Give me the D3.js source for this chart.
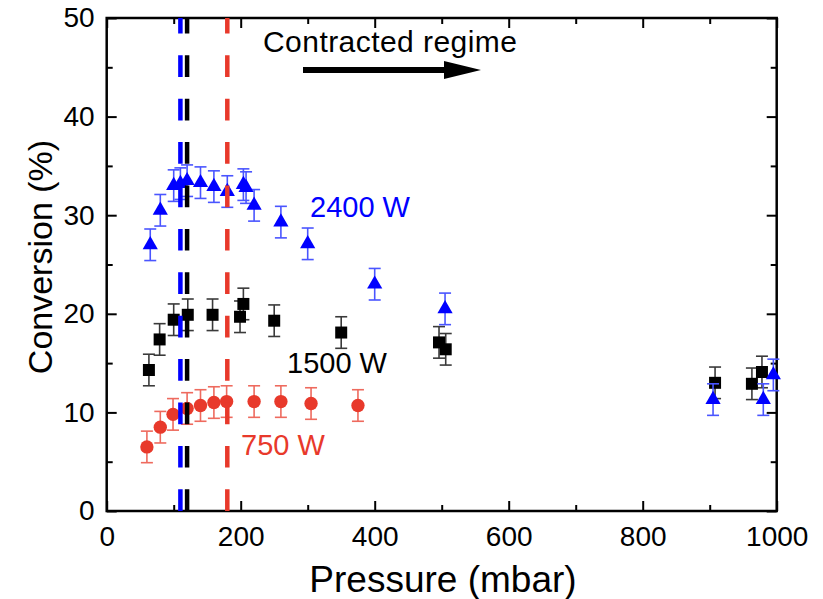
<!DOCTYPE html>
<html><head><meta charset="utf-8">
<script src="https://cdn.jsdelivr.net/npm/d3@7"></script>
<style>
html,body{margin:0;padding:0;background:#fff;}
svg{display:block;font-family:Arial,"Liberation Sans",sans-serif;}
</style></head>
<body><svg id="c" width="823" height="599"></svg>
<script>
// ---- data ----
const p2400 = [65, 80, 100, 110, 120, 140, 160, 180, 204, 208, 220, 260, 300, 400, 505, 905, 980, 995];
const c2400 = [27.0, 30.5, 33.0, 33.2, 33.5, 33.3, 32.9, 32.4, 33.1, 32.8, 31.0, 29.3, 27.1, 23.0, 20.5, 11.3, 11.3, 13.8];
const e2400 = [1.6, 1.6, 1.6, 1.6, 1.6, 1.6, 1.6, 1.6, 1.6, 1.6, 1.6, 1.6, 1.6, 1.6, 1.6, 1.6, 1.6, 1.6];

const p1500 = [63, 79, 100, 121, 158, 199, 204, 250, 350, 496, 506, 908, 963, 978];
const c1500 = [14.3, 17.4, 19.4, 19.9, 19.9, 19.7, 21.0, 19.3, 18.1, 17.1, 16.4, 13.0, 12.9, 14.1];
const e1500 = [1.6, 1.6, 1.6, 1.6, 1.6, 1.6, 1.6, 1.6, 1.6, 1.6, 1.6, 1.6, 1.6, 1.6];

const p750 = [60, 80, 99, 120, 140, 160, 179, 220, 260, 305, 375];
const c750 = [6.5, 8.5, 9.8, 10.4, 10.7, 11.0, 11.1, 11.1, 11.1, 10.9, 10.7];
const e750 = [1.6, 1.6, 1.6, 1.6, 1.6, 1.6, 1.6, 1.6, 1.6, 1.6, 1.6];

const vlinePressures = [110, 120, 180];
const vlineColors = ["#0000ff", "#000000", "#e8392b"];

const xTicks = [0, 200, 400, 600, 800, 1000];
const xMinor = [100, 300, 500, 700, 900];
const yTicks = [0, 10, 20, 30, 40, 50];
const yMinor = [5, 15, 25, 35, 45];

// ---- layout ----
const svg = d3.select("#c");
const L = 106.7, R = 776.7, T = 18, B = 511;
const x = d3.scaleLinear().domain([0, 1000]).range([L, R]);
const y = d3.scaleLinear().domain([0, 50]).range([B, T]);

const BLUE = "#0000ff", RED = "#e8392b", BLACK = "#000000";

function styleAxis(g, showLabels) {
  g.select(".domain").remove();
  g.selectAll(".tick line").attr("stroke", "#000").attr("stroke-width", 2);
  g.selectAll(".tick text").attr("font-size", 28).attr("fill", "#000")
    .attr("font-family", "Arial, 'Liberation Sans', sans-serif");
  if (!showLabels) g.selectAll(".tick text").remove();
}

// axes (ticks inward)
const gxb = svg.append("g").attr("transform", `translate(0,${B})`)
  .call(d3.axisBottom(x).tickValues(xTicks).tickSize(-10).tickPadding(15).tickFormat(d3.format("d")));
styleAxis(gxb, true);
const gxbm = svg.append("g").attr("transform", `translate(0,${B})`)
  .call(d3.axisBottom(x).tickValues(xMinor).tickSize(-6));
styleAxis(gxbm, false);
const gxt = svg.append("g").attr("transform", `translate(0,${T})`)
  .call(d3.axisTop(x).tickValues(xTicks).tickSize(-10));
styleAxis(gxt, false);
const gxtm = svg.append("g").attr("transform", `translate(0,${T})`)
  .call(d3.axisTop(x).tickValues(xMinor).tickSize(-6));
styleAxis(gxtm, false);

const gyl = svg.append("g").attr("transform", `translate(${L},0)`)
  .call(d3.axisLeft(y).tickValues(yTicks).tickSize(-10).tickPadding(12).tickFormat(d3.format("d")));
styleAxis(gyl, true);
const gylm = svg.append("g").attr("transform", `translate(${L},0)`)
  .call(d3.axisLeft(y).tickValues(yMinor).tickSize(-6));
styleAxis(gylm, false);
const gyr = svg.append("g").attr("transform", `translate(${R},0)`)
  .call(d3.axisRight(y).tickValues(yTicks).tickSize(-10));
styleAxis(gyr, false);
const gyrm = svg.append("g").attr("transform", `translate(${R},0)`)
  .call(d3.axisRight(y).tickValues(yMinor).tickSize(-6));
styleAxis(gyrm, false);

// frame
svg.append("rect").attr("x", L).attr("y", T).attr("width", R - L).attr("height", B - T)
  .attr("fill", "none").attr("stroke", "#000").attr("stroke-width", 2.5);

// axis titles
svg.append("text").attr("x", 443).attr("y", 592).attr("text-anchor", "middle")
  .attr("font-size", 37).attr("fill", "#000").text("Pressure (mbar)");
svg.append("text").attr("transform", `translate(52,257) rotate(-90)`)
  .attr("text-anchor", "middle").attr("font-size", 34).attr("fill", "#000").text("Conversion (%)");

// series
function drawSeries(ps, cs, es, color, barColor, symType, size) {
  const g = svg.append("g");
  ps.forEach((p, i) => {
    const cx = x(p), y1 = y(cs[i] + es[i]), y2 = y(cs[i] - es[i]);
    g.append("line").attr("x1", cx).attr("x2", cx).attr("y1", y1).attr("y2", y2)
      .attr("stroke", barColor).attr("stroke-width", 1.6);
    [y1, y2].forEach(yy => g.append("line").attr("x1", cx - 6).attr("x2", cx + 6)
      .attr("y1", yy).attr("y2", yy).attr("stroke", barColor).attr("stroke-width", 1.6));
  });
  ps.forEach((p, i) => {
    g.append("path").attr("d", d3.symbol().type(symType).size(size)())
      .attr("transform", `translate(${x(p)},${y(cs[i])})`).attr("fill", color);
  });
}
drawSeries(p1500, c1500, e1500, BLACK, "#3a3a3a", d3.symbolSquare, 144);
drawSeries(p750, c750, e750, RED, "#ee6a5e", d3.symbolCircle, 140);
drawSeries(p2400, c2400, e2400, BLUE, "#4a55ff", d3.symbolTriangle, 100);

// dashed vertical lines
vlinePressures.forEach((p, i) => {
  svg.append("line").attr("x1", x(p)).attr("x2", x(p)).attr("y1", y(0)).attr("y2", y(50))
    .attr("stroke", vlineColors[i]).attr("stroke-width", 4.5).attr("stroke-dasharray", "21.7 21.7");
});

// annotations
svg.append("text").attr("x", 310).attr("y", 217).attr("font-size", 29).attr("fill", BLUE).text("2400 W");
svg.append("text").attr("x", 287).attr("y", 373).attr("font-size", 29).attr("fill", BLACK).text("1500 W");
svg.append("text").attr("x", 241).attr("y", 455).attr("font-size", 29).attr("fill", RED).text("750 W");
svg.append("text").attr("x", 263).attr("y", 52).attr("font-size", 30).attr("fill", "#000")
  .attr("textLength", 254).text("Contracted regime");

// arrow
svg.append("line").attr("x1", 303).attr("x2", 446).attr("y1", 70).attr("y2", 70)
  .attr("stroke", "#000").attr("stroke-width", 6);
svg.append("path").attr("d", "M444,61 L481,70 L444,79 Z").attr("fill", "#000");
</script></body></html>
